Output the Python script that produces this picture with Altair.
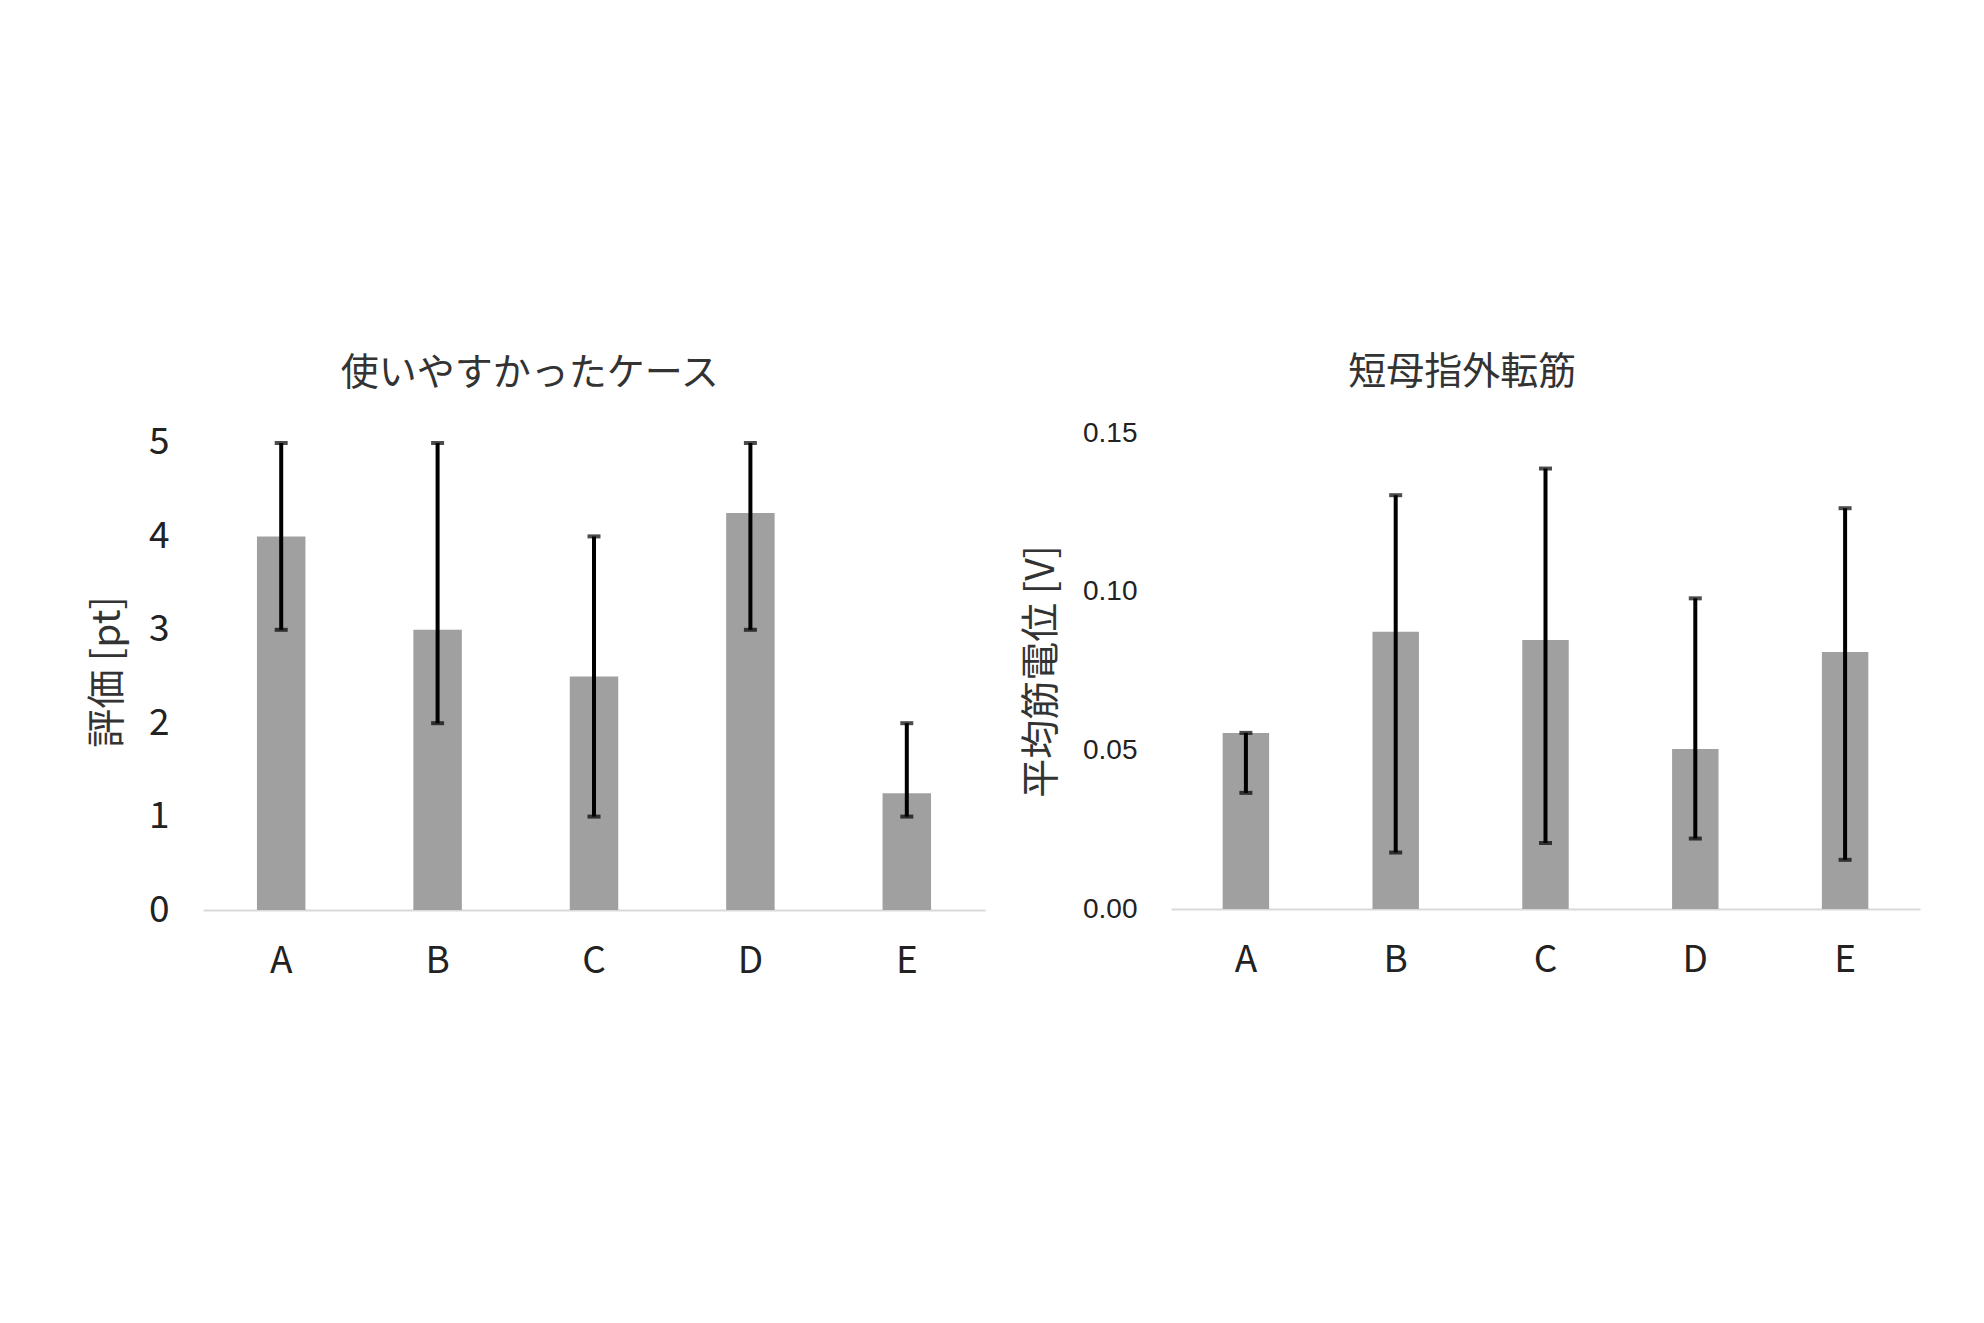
import altair as alt
import pandas as pd

cats = ["A", "B", "C", "D", "E"]

# Left panel: 使いやすかったケース
ease_mean = [4.0, 3.0, 2.5, 4.25, 1.25]
ease_low = [3, 2, 1, 3, 1]
ease_high = [5, 5, 4, 5, 2]

# Right panel: 短母指外転筋
emg_mean = [0.0555, 0.0874, 0.0848, 0.0504, 0.0810]
emg_low = [0.0366, 0.0178, 0.0208, 0.0222, 0.0155]
emg_high = [0.0555, 0.1304, 0.1388, 0.0979, 0.1263]

JP = "Noto Sans CJK JP"
BAR = "#a0a0a0"


def panel(mean, low, high, title, ytitle, ydomain, yvalues, yfmt, label_font,
          label_size, width, height, title_offset, title_dx):
    df = pd.DataFrame({"cat": cats, "mean": mean, "low": low, "high": high})
    xenc = alt.X(
        "cat:N",
        sort=cats,
        title=None,
        scale=alt.Scale(paddingInner=0.69, paddingOuter=0.345),
        axis=alt.Axis(
            labelAngle=0,
            labelFont=JP,
            labelFontSize=37,
            labelColor="#222222",
            labelPadding=33,
            ticks=False,
            domainColor="#d9d9d9",
            domainWidth=2,
            grid=False,
        ),
    )
    yscale = alt.Scale(domain=ydomain, nice=False, zero=True)
    yaxis = alt.Axis(
        values=yvalues,
        format=yfmt,
        grid=False,
        domain=False,
        ticks=False,
        labelFont=label_font,
        labelFontSize=label_size,
        labelColor="#222222",
        labelPadding=34,
        title=ytitle,
        titleFont=JP,
        titleFontSize=39,
        titleFontWeight="normal",
        titleColor="#333333",
        titlePadding=21,
    )
    base = alt.Chart(df)
    bars = base.mark_bar(color=BAR).encode(
        x=xenc, y=alt.Y("mean:Q", scale=yscale, axis=yaxis)
    )
    rule = base.mark_rule(color="#000000", strokeWidth=4).encode(
        x=alt.X("cat:N", sort=cats), y="low:Q", y2="high:Q"
    )
    cap_lo = base.mark_tick(color="#000000", size=13, thickness=4).encode(
        x=alt.X("cat:N", sort=cats), y="low:Q"
    )
    cap_hi = base.mark_tick(color="#000000", size=13, thickness=4).encode(
        x=alt.X("cat:N", sort=cats), y="high:Q"
    )
    return alt.layer(bars, rule, cap_lo, cap_hi).properties(
        width=width,
        height=height,
        title=alt.TitleParams(
            text=title,
            font=JP,
            fontSize=38,
            fontWeight="normal",
            color="#333333",
            offset=title_offset,
            frame="bounds",
            anchor="middle",
            dx=title_dx,
        ),
    )


left = panel(ease_mean, ease_low, ease_high, "使いやすかったケース", "評価 [pt]",
             [0, 5.107], [0, 1, 2, 3, 4, 5], "d", JP, 37, 782, 477, 31, -7)
right = panel(emg_mean, emg_low, emg_high, "短母指外転筋", "平均筋電位 [V]",
              [0, 0.15], [0, 0.05, 0.10, 0.15], ".2f", "Liberation Sans", 28,
              749, 476, 27, -9)

chart = alt.hconcat(left, right, spacing=37).properties(
    padding={"left": 80, "top": 346, "right": 10, "bottom": 10},
    background="white",
).configure_view(stroke=None)

chart.save("out.html", embed_options={"renderer": "svg", "actions": False})
